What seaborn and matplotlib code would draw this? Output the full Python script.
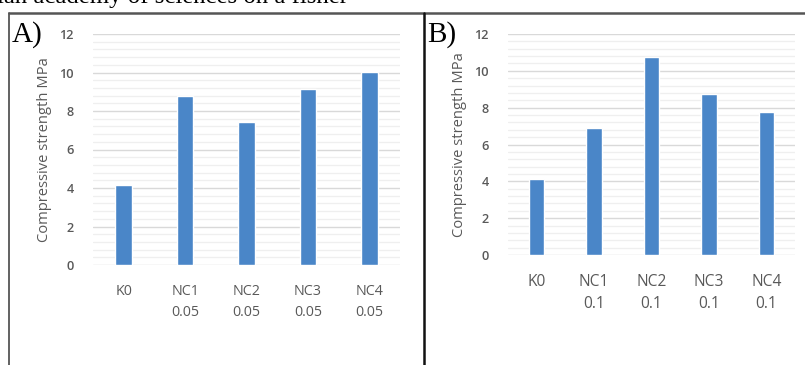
import matplotlib
matplotlib.use("Agg")
import matplotlib.pyplot as plt
import seaborn as sns
from matplotlib.lines import Line2D
from matplotlib.ticker import MultipleLocator

# ---------------- data ----------------
cats = ["K0", "NC1", "NC2", "NC3", "NC4"]
labels_a = ["K0", "NC1\n0.05", "NC2\n0.05", "NC3\n0.05", "NC4\n0.05"]
labels_b = ["K0", "NC1\n0.1", "NC2\n0.1", "NC3\n0.1", "NC4\n0.1"]
strength_a = [4.15, 8.8, 7.43, 9.15, 10.03]
strength_b = [4.13, 6.9, 10.73, 8.72, 7.78]
y_ticks = [0, 2, 4, 6, 8, 10, 12]

sns.set_theme(style="white")
plt.rcParams["font.family"] = ["Open Sans", "DejaVu Sans"]

W, H = 805, 365
fig = plt.figure(figsize=(W / 100, H / 100), dpi=100)
fig.patch.set_facecolor("white")

bar_col = "#4a86c8"
txt_col = "#595959"


def px_axes(left, right, top, bottom):
    return fig.add_axes([left / W, 1 - bottom / H, (right - left) / W, (bottom - top) / H])


def draw(ax, vals, labels, xfs):
    sns.barplot(x=cats, y=vals, color=bar_col, saturation=1, width=0.27, ax=ax, zorder=3)
    ax.set_ylim(0, 12)
    ax.set_xlim(-0.5, 4.5)
    ax.set_yticks(y_ticks)
    ax.yaxis.set_minor_locator(MultipleLocator(0.4))
    ax.grid(axis="y", which="major", color="#d9d9d9", lw=1.0, zorder=0)
    ax.grid(axis="y", which="minor", color="#efefef", lw=0.9, zorder=0)
    ax.set_axisbelow(True)
    for s in ax.spines.values():
        s.set_visible(False)
    ax.set_xticks(range(len(cats)))
    ax.set_xticklabels(labels, fontsize=xfs, color=txt_col, linespacing=1.5, va="top",
                       fontweight="medium")
    ax.tick_params(axis="x", length=0, pad=14)
    ax.tick_params(axis="y", which="both", length=0, pad=14, labelsize=9.2, labelcolor=txt_col)
    for t in ax.get_yticklabels():
        t.set_fontweight("semibold")
    ax.set_xlabel("")
    ax.set_ylabel("Compressive strength MPa", fontsize=10.6, color=txt_col, labelpad=5,
                  fontweight="medium")


ax_a = px_axes(93, 400, 34, 265)
draw(ax_a, strength_a, labels_a, 10.3)
ax_b = px_axes(508, 795, 34, 255)
draw(ax_b, strength_b, labels_b, 11.2)

# frame lines of the source figure
fig.add_artist(Line2D([9 / W, 1], [1 - 13 / H] * 2, color="#555555", lw=1.8, transform=fig.transFigure))
fig.add_artist(Line2D([9 / W] * 2, [0, 1 - 13 / H], color="#555555", lw=1.3, transform=fig.transFigure))
fig.add_artist(Line2D([423.5 / W] * 2, [0, 1 - 13 / H], color="#111111", lw=1.8, transform=fig.transFigure))

serif = ["Liberation Serif", "DejaVu Serif"]
fig.text(12 / W, 1 - 42 / H, "A)", fontsize=21, family=serif, color="black")
fig.text(427 / W, 1 - 42 / H, "B)", fontsize=21, family=serif, color="black")
fig.text(-3 / W, 1 - 3.5 / H, "ian academy of sciences on a fisher", fontsize=17.8,
         family=serif, color="black", va="baseline")

fig.savefig("out.png", dpi=100)
